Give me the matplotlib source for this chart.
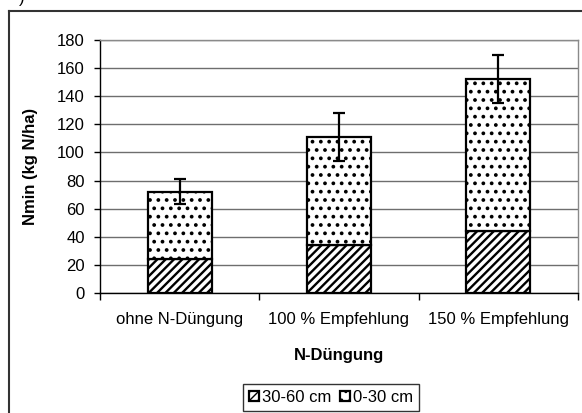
import matplotlib
matplotlib.use("Agg")
import matplotlib.pyplot as plt
from matplotlib.lines import Line2D

plt.rcParams['font.family'] = ['Liberation Sans', 'DejaVu Sans']

# data
categories = ['ohne N-Düngung', '100 % Empfehlung', '150 % Empfehlung']
deep = [24, 34, 44]        # 30-60 cm
top = [48, 77, 108]        # 0-30 cm (stacked on top)
err = [9, 17, 17]          # error on total
series_names = ['30-60 cm', '0-30 cm']
yticks = [0, 20, 40, 60, 80, 100, 120, 140, 160, 180]

x = list(range(len(categories)))
total = [d + t for d, t in zip(deep, top)]

fig = plt.figure(figsize=(5.82, 4.13), dpi=100)
ax = fig.add_axes([100/582, 1 - 293/413, 478/582, 253/413])

ax.set_axisbelow(True)
ax.grid(axis='y', color='#6e6e6e', linewidth=1.0)

with plt.rc_context({'hatch.linewidth': 1.7}):
    b1 = ax.bar(x, deep, width=0.4, color='white', edgecolor='black',
                linewidth=1.6, hatch='////', label=series_names[0])
with plt.rc_context({'hatch.linewidth': 1.5}):
    b2 = ax.bar(x, top, bottom=deep, width=0.4, color='white', edgecolor='black',
                linewidth=1.6, hatch='..', label=series_names[1])

ax.errorbar(x, total, yerr=err, fmt='none', ecolor='black', elinewidth=1.6,
            capsize=4.3, capthick=1.6)

ax.set_xlim(-0.5, 2.5)
ax.set_ylim(0, 180)
ax.set_yticks(yticks)
ax.set_xticks(x)
ax.set_xticklabels(categories)
ax.set_xticks([-0.5, 0.5, 1.5, 2.5], minor=True)
ax.tick_params(axis='x', which='major', length=0, pad=14, labelsize=12)
ax.tick_params(axis='x', which='minor', length=5, width=1)
ax.tick_params(axis='y', length=4, width=1, pad=7, labelsize=12)

for s in ['left', 'bottom']:
    ax.spines[s].set_color('black')
    ax.spines[s].set_linewidth(1.0)
for s in ['top', 'right']:
    ax.spines[s].set_color('#8a8a8a')
    ax.spines[s].set_linewidth(1.0)

ax.set_ylabel('Nmin (kg N/ha)', fontsize=12, fontweight='bold')
ax.yaxis.set_label_coords(-0.13, 0.5)
ax.set_xlabel('N-Düngung', fontsize=12, fontweight='bold')
ax.xaxis.set_label_coords(0.5, -0.217)

leg = fig.legend(handles=[b1, b2], labels=series_names, loc='center',
                 bbox_to_anchor=(331/582, 1 - 397.5/413), ncol=2, fontsize=12,
                 frameon=True, fancybox=False, handlelength=0.6, handleheight=0.6,
                 handletextpad=0.2, columnspacing=0.5, borderpad=0.35,
                 borderaxespad=0)
leg.get_frame().set_edgecolor('black')
leg.get_frame().set_linewidth(1.0)

# outer frame of the chart area (cut off at the right and bottom)
fig.add_artist(Line2D([9/582, 9/582], [0, 1 - 11/413], color='#333333',
                      linewidth=1.5, transform=fig.transFigure))
fig.add_artist(Line2D([9/582, 1], [1 - 11/413, 1 - 11/413], color='#333333',
                      linewidth=1.5, transform=fig.transFigure))
fig.text(22/582, 1 - 6/413, ')', fontsize=12, va='bottom', ha='center')

fig.savefig('out.png', dpi=100)
